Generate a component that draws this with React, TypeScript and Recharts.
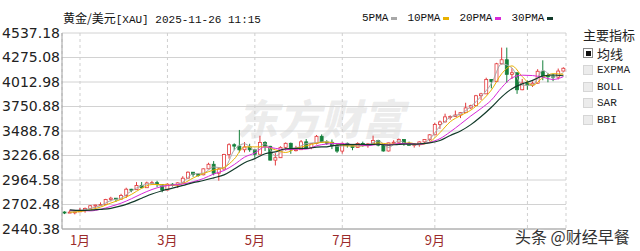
import { ComposedChart, Bar, Line, XAxis, YAxis, CartesianGrid } from "recharts";

// two points per week: Monday-Wednesday and Thursday-Friday
const dates = [
  "12/23", "12/26", "12/30", "01/02", "01/06", "01/09", "01/13", "01/16", "01/20", "01/23",
  "01/27", "01/30", "02/03", "02/06", "02/10", "02/13", "02/17", "02/20", "02/24", "02/27",
  "03/03", "03/06", "03/10", "03/13", "03/17", "03/20", "03/24", "03/27", "03/31", "04/03",
  "04/07", "04/10", "04/14", "04/17", "04/21", "04/24", "04/28", "05/01", "05/05", "05/08",
  "05/12", "05/15", "05/19", "05/22", "05/26", "05/29", "06/02", "06/05", "06/09", "06/12",
  "06/16", "06/19", "06/23", "06/26", "06/30", "07/03", "07/07", "07/10", "07/14", "07/17",
  "07/21", "07/24", "07/28", "07/31", "08/04", "08/07", "08/11", "08/14", "08/18", "08/21",
  "08/25", "08/28", "09/01", "09/04", "09/08", "09/11", "09/15", "09/18", "09/22", "09/25",
  "09/29", "10/02", "10/06", "10/09", "10/13", "10/16", "10/20", "10/23", "10/27", "10/30",
  "11/03", "11/06", "11/10", "11/13", "11/17", "11/20", "11/24", "11/26",
];

const opens = [
  2622, 2617, 2621, 2624, 2640, 2661, 2689, 2697, 2702, 2755,
  2770, 2760, 2798, 2866, 2861, 2905, 2882, 2933, 2936, 2916,
  2857, 2920, 2910, 2934, 2984, 3048, 3023, 3020, 3084, 3133,
  3037, 3082, 3237, 3342, 3327, 3288, 3318, 3288, 3240, 3366,
  3325, 3177, 3203, 3314, 3357, 3288, 3289, 3373, 3310, 3355,
  3432, 3369, 3368, 3332, 3274, 3357, 3337, 3313, 3355, 3347,
  3350, 3387, 3337, 3275, 3362, 3369, 3398, 3356, 3336, 3347,
  3372, 3397, 3448, 3559, 3586, 3640, 3643, 3660, 3685, 3736,
  3760, 3866, 3886, 4040, 4018, 4208, 4251, 4095, 4112, 3930,
  4002, 3980, 4000, 4128, 4080, 4077, 4065, 4130,
];

const highs = [
  2630, 2640, 2630, 2665, 2670, 2697, 2700, 2725, 2763, 2785,
  2772, 2817, 2882, 2870, 2942, 2943, 2947, 2955, 2956, 2920,
  2928, 2930, 2940, 3005, 3057, 3050, 3036, 3087, 3149, 3167,
  3100, 3245, 3358, 3357, 3500, 3370, 3352, 3290, 3438, 3380,
  3330, 3252, 3325, 3366, 3365, 3330, 3392, 3403, 3360, 3446,
  3452, 3390, 3398, 3350, 3365, 3365, 3345, 3368, 3375, 3361,
  3439, 3395, 3340, 3363, 3390, 3409, 3400, 3375, 3358, 3378,
  3400, 3455, 3578, 3600, 3674, 3656, 3707, 3688, 3791, 3770,
  3875, 3897, 4059, 4045, 4218, 4381, 4381, 4160, 4112, 4046,
  4030, 4020, 4150, 4245, 4110, 4100, 4157, 4170,
];

const lows = [
  2600, 2614, 2597, 2622, 2615, 2656, 2656, 2695, 2700, 2735,
  2730, 2755, 2772, 2834, 2860, 2877, 2880, 2918, 2890, 2833,
  2855, 2894, 2880, 2930, 2982, 2999, 3000, 3015, 3080, 3015,
  2957, 3075, 3193, 3283, 3260, 3260, 3266, 3202, 3238, 3275,
  3175, 3120, 3200, 3280, 3245, 3270, 3285, 3305, 3294, 3345,
  3365, 3340, 3295, 3255, 3247, 3311, 3283, 3310, 3320, 3310,
  3345, 3325, 3268, 3270, 3350, 3365, 3331, 3330, 3311, 3321,
  3351, 3380, 3445, 3511, 3580, 3610, 3640, 3627, 3682, 3722,
  3758, 3820, 3884, 3945, 4010, 4200, 4004, 4045, 3886, 3925,
  3930, 3960, 3995, 4032, 4010, 4022, 4040, 4125,
];

const closes = [
  2617, 2621, 2624, 2640, 2661, 2689, 2697, 2702, 2755, 2770,
  2760, 2798, 2866, 2861, 2905, 2882, 2933, 2936, 2916, 2857,
  2920, 2910, 2934, 2984, 3048, 3023, 3020, 3084, 3133, 3037,
  3082, 3237, 3342, 3327, 3288, 3318, 3288, 3240, 3366, 3325,
  3177, 3203, 3314, 3357, 3288, 3289, 3373, 3310, 3355, 3432,
  3369, 3368, 3332, 3274, 3357, 3337, 3313, 3355, 3347, 3350,
  3387, 3337, 3275, 3362, 3369, 3398, 3356, 3336, 3347, 3372,
  3397, 3448, 3559, 3586, 3640, 3643, 3660, 3685, 3736, 3760,
  3866, 3886, 4040, 4018, 4208, 4251, 4095, 4112, 3930, 4002,
  3980, 4000, 4128, 4080, 4077, 4065, 4130, 4160,
];

// moving averages read once per week (placed on the week's second point)
const ma5 = [
  2621, 2635, 2661, 2690, 2746, 2771, 2848, 2904, 2928, 2903,
  2910, 2942, 3030, 3038, 3104, 3092, 3286, 3352, 3286, 3352,
  3221, 3297, 3307, 3354, 3364, 3376, 3325, 3332, 3326, 3340,
  3384, 3313, 3383, 3343, 3341, 3404, 3540, 3636, 3672, 3751,
  3860, 3996, 4207, 4163, 3978, 3978, 4137, 4066, 4114,
];
const ma10 = [
  2620, 2626, 2646, 2675, 2718, 2758, 2810, 2876, 2916, 2916,
  2907, 2926, 2986, 3034, 3071, 3098, 3189, 3319, 3319, 3319,
  3287, 3259, 3302, 3331, 3359, 3370, 3351, 3329, 3329, 3333,
  3362, 3349, 3348, 3363, 3342, 3372, 3472, 3588, 3654, 3712,
  3806, 3928, 4102, 4185, 4071, 3978, 4058, 4102, 4095,
];
const ma20 = [
  2640, 2638, 2634, 2651, 2682, 2717, 2764, 2817, 2863, 2896,
  2911, 2921, 2946, 2980, 3029, 3066, 3130, 3209, 3254, 3319,
  3303, 3289, 3294, 3295, 3331, 3350, 3355, 3349, 3340, 3331,
  3346, 3341, 3355, 3356, 3345, 3368, 3407, 3480, 3563, 3650,
  3730, 3820, 3954, 4057, 4086, 4082, 4064, 4040, 4070,
];
const ma30 = [
  2645, 2639, 2642, 2651, 2662, 2687, 2725, 2770, 2815, 2850,
  2877, 2906, 2936, 2959, 2988, 3019, 3082, 3150, 3193, 3245,
  3265, 3299, 3303, 3303, 3316, 3320, 3337, 3343, 3346, 3344,
  3347, 3337, 3346, 3348, 3351, 3361, 3387, 3441, 3489, 3557,
  3644, 3743, 3854, 3942, 3993, 4030, 4077, 4088, 4080,
];

const yTicks = [2440.38, 2702.48, 2964.58, 3226.68, 3488.78, 3750.88, 4012.98, 4275.08, 4537.18];
// last gridline (November) has its label covered by the watermark
const monthTicks = ["01/02", "03/03", "05/01", "06/30", "09/01", "11/03"];
const monthLabels = ["1月", "3月", "5月", "7月", "9月", ""];

const maLines = [
  { name: "5PMA", key: "ma5", color: "#a8a8a8", width: 1 },
  { name: "10PMA", key: "ma10", color: "#e9b100", width: 1 },
  { name: "20PMA", key: "ma20", color: "#d82ad8", width: 1 },
  { name: "30PMA", key: "ma30", color: "#123a2a", width: 1.2 },
];
const indicators = ["均线", "EXPMA", "BOLL", "SAR", "BBI"];

const weekly = (arr: number[], i: number) => (i % 2 === 1 ? arr[(i - 1) / 2] : null);

const data = dates.map((date, i) => ({
  date,
  open: opens[i],
  high: highs[i],
  low: lows[i],
  close: closes[i],
  ma5: weekly(ma5, i),
  ma10: weekly(ma10, i),
  ma20: weekly(ma20, i),
  ma30: weekly(ma30, i),
}));

const mono = '"Liberation Mono", "DejaVu Sans Mono", monospace';
const cjk = '"Noto Sans CJK SC", sans-serif';

const Candle = (props: any) => {
  const { x, y, width, height, payload } = props;
  const { open, close, high, low } = payload;
  const top = Math.min(y, y + height);
  const h = Math.abs(height);
  const range = high - low || 1;
  const py = (v: number) => top + ((high - v) / range) * h;
  const up = close >= open;
  const color = up ? "#e2383b" : "#16803c";
  const cx = x + width / 2;
  const bTop = py(Math.max(open, close));
  const bH = Math.max(1, py(Math.min(open, close)) - bTop);
  return (
    <g>
      <line x1={cx} x2={cx} y1={top} y2={top + h} stroke={color} strokeWidth={1} />
      <rect x={x} y={bTop} width={width} height={bH} fill={up ? "#fff" : color} stroke={color} strokeWidth={0.8} />
    </g>
  );
};

export default function App() {
  return (
    <div style={{ position: "absolute", left: 0, top: 0, width: 640, height: 251, background: "#fff", overflow: "hidden" }}>
      <div
        style={{
          position: "absolute",
          left: 236,
          top: 86,
          fontFamily: cjk,
          fontSize: 42,
          fontWeight: 900,
          fontStyle: "italic",
          color: "rgba(110,110,110,0.12)",
          whiteSpace: "nowrap",
        }}
      >
        东方财富
      </div>

      <div style={{ position: "absolute", left: 0, top: 0 }}>
        <ComposedChart width={640} height={251} data={data} margin={{ top: 33, right: 74, bottom: 0, left: 0 }}>
          <CartesianGrid vertical={false} stroke="#d2d2d2" />
          <CartesianGrid horizontal={false} stroke="#cfcfcf" strokeDasharray="3 3" />
          <XAxis
            dataKey="date"
            ticks={monthTicks}
            interval={0}
            height={22}
            tickLine={false}
            tickSize={0}
            tickMargin={7}
            axisLine={{ stroke: "#a0a0a0" }}
            tickFormatter={(v: string) => monthLabels[monthTicks.indexOf(v)] ?? ""}
            tick={{ fill: "#9b2a2a", fontSize: 13, fontFamily: cjk }}
          />
          <YAxis
            domain={[2440.38, 4537.18]}
            ticks={yTicks}
            interval={0}
            width={62}
            tickLine={false}
            tickSize={0}
            tickMargin={2}
            axisLine={{ stroke: "#a0a0a0" }}
            tickFormatter={(v: number) => v.toFixed(2)}
            tick={{ fill: "#222", fontSize: 14, fontFamily: '"DejaVu Sans", sans-serif' }}
          />
          <YAxis yAxisId="r" orientation="right" width={0} domain={[0, 1]} tick={false} tickLine={false} axisLine={{ stroke: "#a0a0a0" }} />
          <Bar dataKey={(d: any) => [d.low, d.high]} barSize={3} shape={(p: any) => <Candle {...p} />} isAnimationActive={false} />
          {maLines.map((m) => (
            <Line
              key={m.key}
              dataKey={m.key}
              type="monotone"
              stroke={m.color}
              strokeWidth={m.width}
              dot={false}
              activeDot={false}
              connectNulls
              isAnimationActive={false}
            />
          ))}
        </ComposedChart>
      </div>

      <div style={{ position: "absolute", left: 63, top: 10, color: "#111", whiteSpace: "nowrap", lineHeight: "16px" }}>
        <span style={{ fontFamily: cjk, fontSize: 12 }}>黄金/美元</span>
        <span style={{ fontFamily: mono, fontSize: 11 }}>[XAU] 2025-11-26 11:15</span>
      </div>

      <div style={{ position: "absolute", left: 362, top: 10, display: "flex", alignItems: "center", lineHeight: "16px" }}>
        {maLines.map((m) => (
          <div key={m.key} style={{ display: "flex", alignItems: "center", marginRight: 10 }}>
            <span style={{ fontFamily: mono, fontSize: 11, color: "#111" }}>{m.name}</span>
            <span style={{ display: "inline-block", width: 6, height: 3, background: m.color, marginLeft: 3 }} />
          </div>
        ))}
      </div>

      <div style={{ position: "absolute", left: 583, top: 27, fontFamily: cjk, fontSize: 13, color: "#222", lineHeight: "16px" }}>
        主要指标
      </div>
      {indicators.map((name, i) => (
        <div
          key={name}
          style={{ position: "absolute", left: 583, top: 45 + i * 16.8, display: "flex", alignItems: "center", height: 16 }}
        >
          <span
            style={{
              width: 8,
              height: 8,
              border: i === 0 ? "1px solid #888" : "1px solid #d6d6d6",
              background: i === 0 ? "#fff" : "#ececec",
              display: "flex",
              alignItems: "center",
              justifyContent: "center",
            }}
          >
            {i === 0 && <span style={{ width: 5, height: 5, background: "#111" }} />}
          </span>
          <span
            style={{
              marginLeft: 4,
              fontFamily: i === 0 ? cjk : mono,
              fontSize: i === 0 ? 13 : 11,
              color: "#222",
            }}
          >
            {name}
          </span>
        </div>
      ))}

      <div
        style={{
          position: "absolute",
          left: 515,
          top: 224,
          fontFamily: cjk,
          fontSize: 16,
          color: "#333",
          whiteSpace: "nowrap",
          textShadow: "0 0 2px #fff, 0 0 2px #fff",
        }}
      >
        头条 @财经早餐
      </div>
    </div>
  );
}
